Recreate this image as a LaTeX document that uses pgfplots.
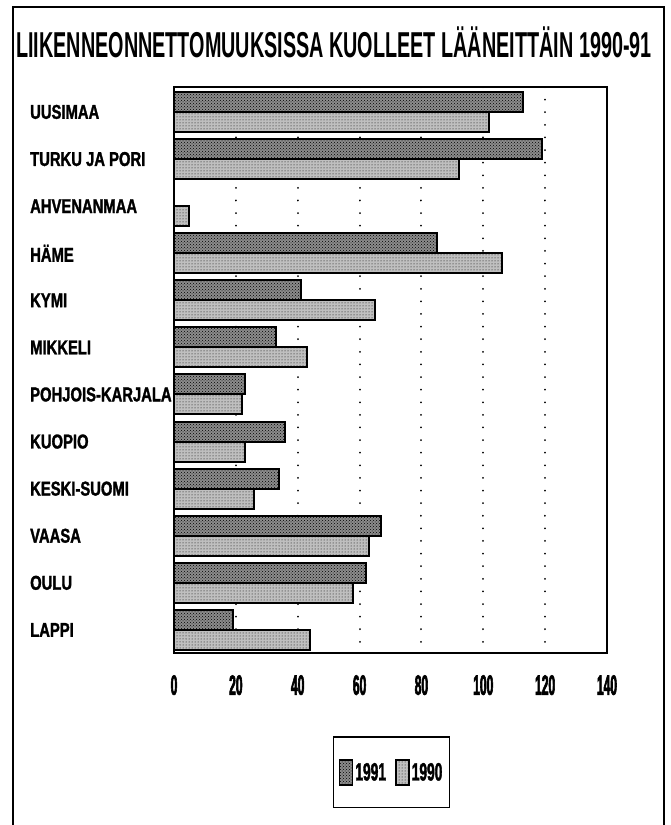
\documentclass[border=0pt]{standalone}
\usepackage{fontspec}
\usepackage{pgfplots}
\pgfplotsset{compat=1.18}
\usetikzlibrary{patterns}
\setmainfont{Liberation Sans}
\newfontfamily\titlef{Liberation Sans}[FakeStretch=0.55]
\newfontfamily\labf{Liberation Sans}[FakeStretch=0.74,FakeBold=1.5]
\newfontfamily\tickf{Liberation Sans}[FakeStretch=0.43,FakeBold=2]
\newfontfamily\legf{Liberation Sans}[FakeStretch=0.55,FakeBold=1.5]
\begin{document}
\begin{tikzpicture}[x=1pt,y=1pt]
\path[use as bounding box] (0,0) rectangle (671,825);
\draw[line width=1.5pt] (13,-5) -- (13,818) -- (664,818) -- (664,-5);
\node[anchor=base west, inner sep=0pt, font=\titlef\bfseries\fontsize{36}{40}\selectfont] at (16,767) {LIIKENNEONNETTOMUUKSISSA KUOLLEET LÄÄNEITTÄIN 1990-91};
\begin{axis}[at={(174pt,172pt)}, anchor=south west, scale only axis,
  width=433pt, height=566pt,
  xmin=0, xmax=140, ymin=-0.53, ymax=11.49, y dir=reverse,
  xbar, bar width=20pt,
  xtick={0,20,...,140}, ytick={0,...,11},
  yticklabels={UUSIMAA,TURKU JA PORI,AHVENANMAA,HÄME,KYMI,MIKKELI,POHJOIS-KARJALA,KUOPIO,KESKI-SUOMI,VAASA,OULU,LAPPI},
  major tick length=0pt,
  axis line style={line width=1.8pt},
  xmajorgrids,
  grid style={black, line width=2pt, dash pattern=on 0.01pt off 12.6pt, line cap=round},
  /pgf/number format/assume math mode=true,
  xticklabel style={font=\tickf\bfseries\fontsize{28}{30}\selectfont, inner sep=0pt, yshift=-22pt},
  yticklabel style={font=\labf\bfseries\fontsize{20}{22}\selectfont, anchor=west, xshift=-144pt, inner sep=0pt},
  legend columns=2,
  legend style={at={(0.5023,-0.2111)}, anchor=center, draw=black, line width=1.2pt,
    font=\legf\bfseries\fontsize{25}{28}\selectfont, inner xsep=5pt, inner ysep=22pt,
    /tikz/every even column/.style={column sep=7pt}},
  legend image code/.code={\draw[#1, line width=1.8pt] (0pt,-12.5pt) rectangle (13pt,12.5pt);},
]
\addplot[bar shift=10pt, draw=black, line width=2pt, fill=black!45, postaction={pattern=crosshatch dots, pattern color=black}] coordinates {(113,0) (119,1) (0,2) (85,3) (41,4) (33,5) (23,6) (36,7) (34,8) (67,9) (62,10) (19,11)};
\addplot[bar shift=-10pt, draw=black, line width=2pt, fill=black!25, postaction={pattern=dots, pattern color=black}] coordinates {(102,0) (92,1) (5,2) (106,3) (65,4) (43,5) (22,6) (23,7) (26,8) (63,9) (58,10) (44,11)};
\legend{1991,1990}
\end{axis}
\end{tikzpicture}
\end{document}
